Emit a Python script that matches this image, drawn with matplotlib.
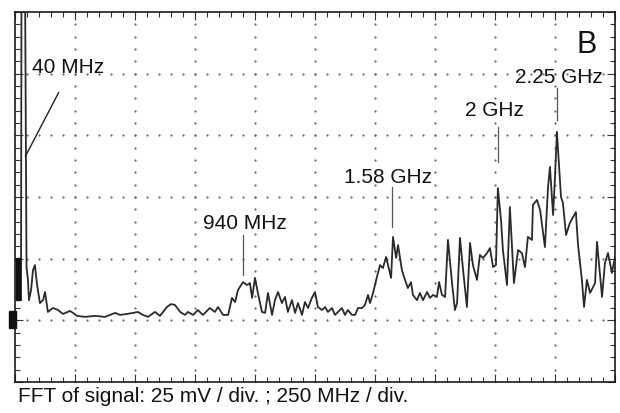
# Espectro FFT no estilo de tela de osciloscópio (painel B)
import matplotlib
matplotlib.use("Agg")
import matplotlib.pyplot as plt
from matplotlib.patches import Rectangle
from matplotlib.ticker import MultipleLocator

freq_mhz = [
    25, 27, 42, 48, 54, 58, 67, 75, 83, 92, 104, 117, 125, 137, 158, 179, 200,
    229, 242, 258, 292, 333, 375, 396, 417, 438, 467, 492, 512, 533, 554, 583,
    604, 633, 650, 667, 688, 708, 721, 742, 762, 783, 812, 833, 846, 867, 888,
    904, 917, 929, 950, 967, 979, 988, 1000, 1012, 1029, 1042, 1054, 1071,
    1083, 1096, 1112, 1125, 1137, 1154, 1167, 1179, 1196, 1208, 1221, 1237,
    1250, 1262, 1279, 1292, 1304, 1321, 1333, 1346, 1362, 1375, 1387, 1404,
    1417, 1429, 1446, 1458, 1471, 1479, 1492, 1508, 1521, 1533, 1546, 1554,
    1567, 1575, 1588, 1596, 1612, 1625, 1637, 1650, 1658, 1675, 1687, 1700,
    1717, 1729, 1742, 1758, 1767, 1779, 1792, 1804, 1821, 1833, 1842, 1854,
    1867, 1883, 1896, 1908, 1925, 1937, 1950, 1967, 1979, 1992, 2004, 2012,
    2025, 2033, 2050, 2062, 2079, 2096, 2112, 2125, 2137, 2154, 2158, 2175,
    2188, 2208, 2221, 2229, 2242, 2250, 2258, 2262, 2275, 2283, 2296, 2312,
    2337, 2346, 2362, 2371, 2383, 2396, 2417, 2425, 2433, 2446, 2458, 2471,
    2487, 2500,
]
level_mv = [
    33.2, 160, 160, 46.6, 41.4, 33.2, 37.3, 45.4, 47.4, 39.3, 32.0, 33.2, 36.5,
    28.4, 30.0, 29.2, 27.6, 28.8, 28.0, 26.8, 26.4, 26.8, 26.4, 27.2, 28.0,
    27.2, 27.6, 28.0, 28.4, 27.2, 26.4, 28.4, 26.8, 30.4, 31.6, 31.2, 28.4,
    27.2, 28.4, 27.2, 29.2, 27.2, 30.0, 28.4, 30.4, 27.2, 27.2, 34.1, 32.4,
    37.3, 40.5, 39.3, 40.1, 34.1, 42.2, 36.1, 28.4, 28.0, 36.1, 27.2, 33.2,
    36.5, 32.0, 34.5, 28.4, 33.2, 28.0, 32.0, 27.2, 32.4, 30.0, 34.1, 36.5,
    30.4, 29.2, 30.4, 28.4, 30.0, 27.2, 28.4, 30.0, 27.2, 29.2, 27.2, 27.2,
    30.0, 30.0, 31.2, 35.3, 32.0, 36.1, 42.6, 47.4, 46.2, 50.7, 47.4, 42.2,
    58.8, 50.3, 55.5, 45.4, 41.4, 38.1, 40.5, 35.3, 33.2, 36.1, 33.2, 36.5,
    34.1, 35.3, 34.5, 40.5, 35.3, 34.5, 57.6, 40.1, 29.2, 32.0, 58.4, 45.4,
    30.4, 56.4, 47.4, 41.4, 51.5, 50.3, 52.3, 54.3, 46.6, 47.4, 78.6, 65.7,
    53.5, 39.3, 70.9, 40.1, 53.5, 52.3, 46.6, 58.8, 57.6, 71.8, 73.8, 69.7,
    54.7, 79.1, 87.2, 67.7, 83.1, 101.4, 95.3, 75.0, 72.6, 59.6, 64.5, 68.9,
    55.5, 41.4, 30.4, 41.4, 36.1, 40.1, 56.8, 48.2, 34.5, 48.2, 52.3, 44.2,
    50.7,
]

# rótulos dos picos: texto, posição do texto, início e fim do traço
peak_labels = ["940 MHz", "1.58 GHz", "2 GHz", "2.25 GHz"]
label_freq = [956, 1554, 1996, 2267]
label_base_mv = [62.2, 80.7, 107.8, 121.2]
tick_freq = [950, 1571, 2012, 2258]
tick_top_mv = [59.6, 79.1, 103.4, 119.2]
tick_bottom_mv = [43.4, 62.8, 89.2, 106.2]

X_DIV_MHZ = 250
Y_DIV_MV = 25
N_XDIV = 10
N_YDIV = 6
FONT = "Liberation Sans"
TRACE_COLOR = "#2a2a2a"
DOT_COLOR = "#6a6a6a"

W, H = 620, 413
fig = plt.figure(figsize=(W / 100, H / 100), dpi=100)
fig.patch.set_facecolor("white")
ax = fig.add_axes([15 / W, (H - 382) / H, 600 / W, 370 / H])
ax.set_xlim(0, N_XDIV * X_DIV_MHZ)
ax.set_ylim(0, N_YDIV * Y_DIV_MV)

# graticulado pontilhado
for i in range(1, N_XDIV):
    ys = [k * Y_DIV_MV / 5 for k in range(N_YDIV * 5 + 1)]
    ax.plot([i * X_DIV_MHZ] * len(ys), ys, ls="none", marker="o", ms=1.6,
            mec="none", mfc=DOT_COLOR, zorder=1)
for j in range(1, N_YDIV):
    xs = [k * X_DIV_MHZ / 5 for k in range(N_XDIV * 5 + 1)]
    ax.plot(xs, [j * Y_DIV_MV] * len(xs), ls="none", marker="o", ms=1.6,
            mec="none", mfc=DOT_COLOR, zorder=1)

ax.xaxis.set_major_locator(MultipleLocator(X_DIV_MHZ))
ax.xaxis.set_minor_locator(MultipleLocator(X_DIV_MHZ / 5))
ax.yaxis.set_major_locator(MultipleLocator(Y_DIV_MV))
ax.yaxis.set_minor_locator(MultipleLocator(Y_DIV_MV / 5))
ax.tick_params(which="both", direction="in", top=True, right=True,
               labelbottom=False, labelleft=False, color="#333333", width=0.8)
ax.tick_params(which="major", length=6)
ax.tick_params(which="minor", length=3.5)
for spine in ax.spines.values():
    spine.set_linewidth(1.2)
    spine.set_color("#1a1a1a")

# traço do espectro
ax.plot(freq_mhz, level_mv, color=TRACE_COLOR, lw=1.3, zorder=3)

# marcador de traço na borda esquerda
ax.add_patch(Rectangle((4, 33.2), 17, 17.1, color="#111111", zorder=4, clip_on=False))

# rótulos
txt = dict(family=FONT, fontsize=15, color="#111111")
ax.text(71, 125.3, "40 MHz", ha="left", va="baseline", **txt)
ax.annotate("", xy=(37.5, 90.4), xytext=(187.5, 118.4),
            arrowprops=dict(arrowstyle="-", color="#222222", lw=1.0))
for name, fx, fy, tx, t0, t1 in zip(peak_labels, label_freq, label_base_mv,
                                    tick_freq, tick_top_mv, tick_bottom_mv):
    ax.text(fx, fy, name, ha="center", va="baseline", **txt)
    ax.plot([tx, tx], [t0, t1], color="#555555", lw=0.9, zorder=2)

ax.text(2383, 133.4, "B", ha="center", va="baseline", family=FONT,
        fontsize=22, color="#111111")

# marcador de terra fora da tela
fig.add_artist(Rectangle((9 / W, (H - 328) / H), 7 / W, 17 / H,
                         transform=fig.transFigure, color="#111111"))

fig.text(18 / W, (H - 402) / H, "FFT of signal: 25 mV / div. ; 250 MHz / div.",
         ha="left", va="baseline", **txt)

fig.savefig("out.png", dpi=100)
